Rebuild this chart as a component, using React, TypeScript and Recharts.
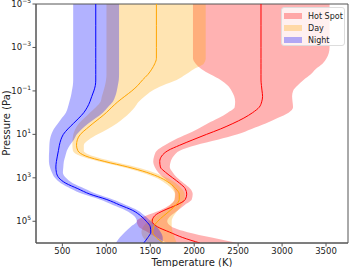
import { ComposedChart, Area, Line, XAxis, YAxis, ReferenceArea } from "recharts";

// log10 of pressure (Pa), top of atmosphere first
const logP = [-5, -4, -3, -2.5, -2.25, -2, -1.75, -1.5, -1.25, -1, -0.75, -0.5, -0.25, 0, 0.25, 0.5, 0.75, 1, 1.25, 1.5, 1.75, 2, 2.25, 2.5, 2.75, 3, 3.25, 3.5, 3.75, 4, 4.25, 4.5, 4.75, 5, 5.25, 5.5, 5.75, 6];

const hotMid = [2760, 2760, 2760, 2760, 2760, 2760, 2760, 2760, 2765, 2772, 2778, 2768, 2740, 2665, 2565, 2440, 2300, 2140, 1985, 1835, 1700, 1630, 1608, 1615, 1675, 1755, 1835, 1898, 1915, 1898, 1800, 1655, 1550, 1522, 1580, 1720, 1870, 2065];
const hotLo = [1986, 1986, 1986, 1986, 2017, 2085, 2188, 2301, 2381, 2426, 2455, 2466, 2460, 2381, 2278, 2153, 2040, 1915, 1778, 1665, 1574, 1545, 1534, 1551, 1591, 1653, 1722, 1767, 1784, 1778, 1722, 1608, 1449, 1347, 1369, 1472, 1574, 1688];
const hotHi = [3540, 3540, 3540, 3506, 3460, 3381, 3324, 3244, 3176, 3125, 3114, 3119, 3125, 3074, 2949, 2813, 2653, 2494, 2267, 2017, 1835, 1767, 1733, 1722, 1756, 1807, 1881, 1955, 1983, 1972, 1892, 1813, 1733, 1693, 1744, 1926, 2199, 2494];

const dayMid = [1570, 1570, 1570, 1570, 1551, 1517, 1472, 1411, 1358, 1290, 1210, 1131, 1063, 1000, 926, 847, 773, 705, 670, 661, 676, 767, 983, 1244, 1460, 1619, 1722, 1790, 1830, 1830, 1790, 1727, 1653, 1585, 1540, 1528, 1568, 1653];
const dayLo = [1002, 1002, 1002, 1002, 1002, 1002, 1002, 997, 985, 968, 950, 935, 881, 813, 750, 688, 648, 625, 616, 614, 620, 705, 915, 1180, 1400, 1565, 1670, 1745, 1780, 1775, 1730, 1660, 1570, 1480, 1420, 1400, 1420, 1470];
const dayHi = [2131, 2131, 2131, 2131, 2108, 1994, 1903, 1801, 1642, 1517, 1438, 1369, 1324, 1267, 1199, 1119, 1017, 903, 801, 744, 744, 847, 1074, 1335, 1540, 1688, 1790, 1858, 1892, 1892, 1858, 1813, 1767, 1744, 1744, 1756, 1778, 1801];

const nightMid = [880, 880, 880, 880, 880, 880, 880, 880, 875, 858, 835, 813, 784, 744, 688, 625, 563, 511, 483, 466, 455, 443, 432, 426, 432, 460, 540, 676, 813, 1006, 1153, 1301, 1392, 1455, 1500, 1506, 1472, 1426];
const nightLo = [623, 623, 623, 623, 623, 623, 623, 623, 619, 608, 597, 580, 563, 540, 494, 449, 403, 375, 358, 352, 350, 347, 347, 358, 381, 415, 483, 597, 733, 926, 1074, 1222, 1313, 1347, 1278, 1210, 1153, 1108];
const nightHi = [1145, 1145, 1145, 1145, 1145, 1145, 1145, 1142, 1131, 1119, 1102, 1074, 1017, 960, 881, 795, 722, 665, 631, 585, 551, 534, 517, 511, 506, 540, 619, 756, 892, 1074, 1222, 1358, 1438, 1506, 1574, 1619, 1642, 1642];

const tempTicks = [500, 1000, 1500, 2000, 2500, 3000, 3500];
const pressureTickExps = [-5, -3, -1, 1, 3, 5];
const legendItems = [
  { label: "Hot Spot", color: "#ff0000" },
  { label: "Day", color: "#ffa500" },
  { label: "Night", color: "#0000ff" },
];

const FONT = "DejaVu Sans, sans-serif";

const rows = logP.map((e, i) => ({
  p: Math.pow(10, e),
  hot: [hotLo[i], hotHi[i]],
  hotMid: hotMid[i],
  day: [dayLo[i], dayHi[i]],
  dayMid: dayMid[i],
  night: [nightLo[i], nightHi[i]],
  nightMid: nightMid[i],
}));

function PressureTick({ x, y, payload }: any) {
  const exp = Math.round(Math.log10(payload.value));
  return (
    <text x={x} y={y} dy={3} textAnchor="end" fontSize={8.5} fill="#222" fontFamily={FONT}>
      <tspan>10</tspan>
      <tspan dy={-4} fontSize={6}>{exp < 0 ? `\u2212${-exp}` : `${exp}`}</tspan>
    </text>
  );
}

export default function App() {
  return (
    <div style={{ position: "absolute", left: 0, top: 0, width: 350, height: 267, background: "#fff", fontFamily: FONT }}>
      <ComposedChart
        width={350}
        height={267}
        data={rows}
        layout="vertical"
        margin={{ top: 4, right: 2, bottom: 0, left: 0 }}
      >
        <XAxis
          type="number"
          domain={[200, 3750]}
          ticks={tempTicks}
          interval={0}
          allowDataOverflow
          height={24}
          tick={{ fontSize: 8.5, fill: "#222", fontFamily: FONT }}
          tickSize={3.5}
          tickMargin={1}
          stroke="#555"
          label={{ value: "Temperature (K)", position: "insideBottom", offset: 1, fontSize: 10, fill: "#222", fontFamily: FONT }}
        />
        <YAxis
          type="number"
          dataKey="p"
          scale="log"
          domain={[1e-5, 1e6]}
          ticks={pressureTickExps.map((e) => Math.pow(10, e))}
          interval={0}
          allowDataOverflow
          width={36}
          tick={<PressureTick />}
          tickSize={3.5}
          tickMargin={1.5}
          stroke="#555"
          label={{
            content: () => (
              <text x={6} y={123} transform="rotate(-90 6 123)" textAnchor="middle" dominantBaseline="central" fontSize={10} fill="#222" fontFamily={FONT}>
                Pressure (Pa)
              </text>
            ),
          }}
        />
        <Area dataKey="hot" type="monotone" fill="#ff0000" fillOpacity={0.3} stroke="none" isAnimationActive={false} />
        <Area dataKey="day" type="monotone" fill="#ffa500" fillOpacity={0.3} stroke="none" isAnimationActive={false} />
        <Area dataKey="night" type="monotone" fill="#0000ff" fillOpacity={0.3} stroke="none" isAnimationActive={false} />
        <Line dataKey="hotMid" type="monotone" stroke="#ff0000" strokeWidth={1} dot={false} activeDot={false} isAnimationActive={false} />
        <Line dataKey="dayMid" type="monotone" stroke="#ffa500" strokeWidth={1} dot={false} activeDot={false} isAnimationActive={false} />
        <Line dataKey="nightMid" type="monotone" stroke="#0000ff" strokeWidth={1} dot={false} activeDot={false} isAnimationActive={false} />
        <ReferenceArea x1={200} x2={3750} y1={1e-5} y2={1e6} fill="none" stroke="#555" strokeWidth={1} ifOverflow="visible" />
      </ComposedChart>
      <div
        style={{
          position: "absolute",
          left: 281,
          top: 7,
          width: 64,
          height: 39,
          boxSizing: "border-box",
          border: "1px solid #ddd",
          borderRadius: 3,
          background: "rgba(255,255,255,0.8)",
          paddingTop: 2,
        }}
      >
        {legendItems.map((it) => (
          <div key={it.label} style={{ display: "flex", alignItems: "center", height: 12, fontSize: 8, color: "#222" }}>
            <span style={{ width: 18, height: 6, marginLeft: 2, marginRight: 6, background: it.color, opacity: 0.3 }} />
            <span>{it.label}</span>
          </div>
        ))}
      </div>
    </div>
  );
}
